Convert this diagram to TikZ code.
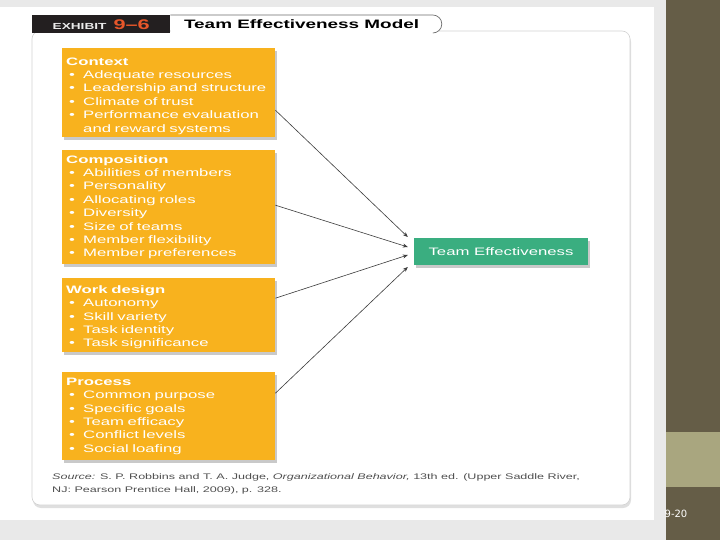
\documentclass[tikz,border=0pt]{standalone}
\usepackage{fontspec}
\setmainfont{Liberation Sans}
\newfontfamily\exfont[FakeStretch=1.55]{Liberation Sans}
\newfontfamily\slidefont{DejaVu Sans}
\usepackage{tikz}
\usetikzlibrary{positioning,arrows.meta,shadows}
\definecolor{slideDark}{HTML}{655D47}
\definecolor{slideLight}{HTML}{A9A67F}
\definecolor{slideGray}{HTML}{E9E9E9}
\definecolor{boxFill}{HTML}{F8B21E}
\definecolor{teFill}{HTML}{3AAE80}
\definecolor{tabBlack}{HTML}{231F20}
\definecolor{tabOrange}{HTML}{E8572A}
\definecolor{tabLine}{HTML}{6E6E6E}
\definecolor{arrowCol}{HTML}{3C3C3C}
\definecolor{srcCol}{HTML}{4F4F4F}
\definecolor{panelLine}{HTML}{D2D2D2}

\newcommand\itm{\makebox[17pt][l]{\hspace{3pt}\textbullet}}

\begin{document}
\begin{tikzpicture}[
  x=1pt, y=-1pt,
  factorbox/.style={fill=boxFill, text=white, anchor=north west, align=left,
              text width=205pt, inner xsep=4pt, inner ysep=2pt,
              font=\exfont\fontsize{10.8}{13.4}\selectfont,
              drop shadow={shadow xshift=2pt, shadow yshift=-2.5pt, opacity=0.35, fill=black!60}},
  outcome/.style={fill=teFill, text=white, minimum width=174pt, minimum height=27pt, inner sep=0pt,
              font=\exfont\fontsize{10.8}{12}\selectfont,
              drop shadow={shadow xshift=2pt, shadow yshift=-2.5pt, opacity=0.35, fill=black!60}},
  flow/.style={-{Stealth[length=5pt,width=4pt]}, line width=0.6pt, draw=arrowCol},
  panel/.style={fill=white, draw=panelLine, line width=0.6pt, rounded corners=8pt,
              drop shadow={shadow xshift=1pt, shadow yshift=-3pt, opacity=0.25, fill=black!50}},
  exhtab/.style={fill=tabBlack, anchor=north west, minimum width=138pt, minimum height=18pt, inner sep=0pt},
  titletab/.style={fill=white, minimum width=262pt, minimum height=18pt, inner sep=0pt,
              font=\exfont\bfseries\fontsize{12.2}{13}\selectfont},
  tabline/.style={draw=tabLine, line width=0.7pt},
]
\useasboundingbox (0,0) rectangle (720,540);

% ---- Fondo de la diapositiva ----
\fill[slideGray] (0,0) rectangle (666,540);
\fill[white] (0,7) rectangle (654,520);
\fill[slideDark] (666,0) rectangle (720,540);
\fill[slideLight] (666,432) rectangle (720,487);
\node[font=\slidefont\fontsize{10}{12}\selectfont, text=white] (pg) at (676,514) {9-20};

% ---- Marco del exhibit ----
\draw[panel] (32,31) rectangle (630,505);

% ---- Pestanas de titulo ----
\node[exhtab] (exh) at (32,15)
  {{\exfont\bfseries\fontsize{8.8}{10}\selectfont\color{black!8}EXHIBIT}\hspace{7pt}%
   {\exfont\bfseries\fontsize{14}{14}\selectfont\color{tabOrange}9–6}};
\node[titletab, right=0pt of exh] (ttl) {Team Effectiveness Model};
\fill[white] (ttl.north east) arc[start angle=90, end angle=-90, radius=9pt] -- cycle;
\draw[tabline] (ttl.north west) -- (ttl.north east) arc[start angle=90, end angle=-90, radius=9pt];

% ---- Factores (columna izquierda) ----
\node[factorbox, minimum height=89pt] (ctx) at (62,48)
  {\rule{0pt}{14pt}\textbf{Context}\\
   \itm Adequate resources\\
   \itm Leadership and structure\\
   \itm Climate of trust\\
   \itm Performance evaluation\\
   \hspace*{17pt}and reward systems};
\node[factorbox, minimum height=114pt] (comp) at (62,150)
  {\textbf{Composition}\\
   \itm Abilities of members\\
   \itm Personality\\
   \itm Allocating roles\\
   \itm Diversity\\
   \itm Size of teams\\
   \itm Member flexibility\\
   \itm Member preferences};
\node[factorbox, minimum height=74pt] (work) at (62,278)
  {\rule{0pt}{12pt}\textbf{Work design}\\
   \itm Autonomy\\
   \itm Skill variety\\
   \itm Task identity\\
   \itm Task significance};
\node[factorbox, minimum height=88pt] (proc) at (62,372)
  {\textbf{Process}\\
   \itm Common purpose\\
   \itm Specific goals\\
   \itm Team efficacy\\
   \itm Conflict levels\\
   \itm Social loafing};

% ---- Resultado ----
\node[outcome] (te) at (501,251.5) {Team Effectiveness};

% ---- Flechas hacia el resultado ----
\draw[flow] ([yshift=-17.5pt]ctx.east) -- ([xshift=-6pt, yshift=14.5pt]te.west);
\draw[flow] ([yshift=2pt]comp.east)    -- ([xshift=-6pt, yshift=4.5pt]te.west);
\draw[flow] ([yshift=17pt]work.east)   -- ([xshift=-6pt, yshift=-3.5pt]te.west);
\draw[flow] ([yshift=23pt]proc.east)   -- ([xshift=-6pt, yshift=-15.5pt]te.west);

% ---- Fuente ----
\node[anchor=north west, align=left, text=srcCol, inner sep=0pt,
      font=\exfont\fontsize{8.1}{13}\selectfont] (src) at (52,473)
  {\textit{Source:} S. P. Robbins and T. A. Judge, \textit{Organizational Behavior,} 13th ed. (Upper Saddle River,\\
   NJ: Pearson Prentice Hall, 2009), p. 328.};

\end{tikzpicture}
\end{document}
